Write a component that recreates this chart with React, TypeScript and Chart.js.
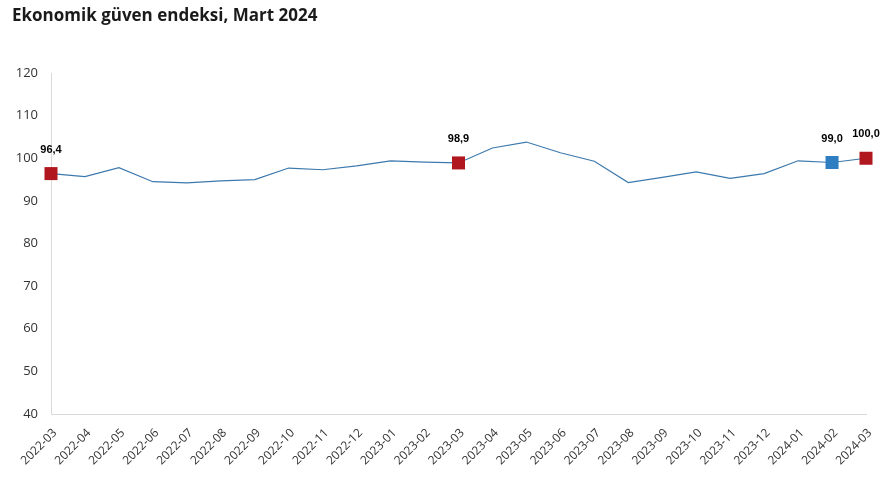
import React, { useEffect, useRef } from "react";
import { Chart, registerables } from "chart.js";

Chart.register(...registerables);

const TITLE = "Ekonomik güven endeksi, Mart 2024";

const categories = [
  "2022-03", "2022-04", "2022-05", "2022-06", "2022-07", "2022-08", "2022-09",
  "2022-10", "2022-11", "2022-12", "2023-01", "2023-02", "2023-03", "2023-04",
  "2023-05", "2023-06", "2023-07", "2023-08", "2023-09", "2023-10", "2023-11",
  "2023-12", "2024-01", "2024-02", "2024-03",
];

const values = [
  96.4, 95.7, 97.8, 94.5, 94.2, 94.7, 95.0,
  97.7, 97.3, 98.2, 99.4, 99.1, 98.9, 102.4,
  103.8, 101.3, 99.3, 94.3, 95.5, 96.8, 95.3,
  96.4, 99.4, 99.0, 100.0,
];

// indices of highlighted points and their marker colours
const markedIndex = [0, 12, 23, 24];
const markedColor = ["#B0171F", "#B0171F", "#2E7EC1", "#B0171F"];

const yTicks = [40, 50, 60, 70, 80, 90, 100, 110, 120];

const LINE_COLOR = "#3C79AD";

const fmt = (v: number) => v.toFixed(1).replace(".", ",");

const labelPlugin = {
  id: "pointLabels",
  afterDatasetsDraw(chart: any) {
    const meta = chart.getDatasetMeta(0);
    const ctx = chart.ctx;
    ctx.save();
    ctx.font = 'bold 11px "Liberation Sans", Arial, sans-serif';
    ctx.fillStyle = "#000000";
    ctx.textAlign = "center";
    ctx.textBaseline = "middle";
    markedIndex.forEach((i) => {
      const el = meta.data[i];
      ctx.fillText(fmt(values[i]), el.x, el.y - 24);
    });
    ctx.restore();
  },
};

export default function App() {
  const ref = useRef<HTMLCanvasElement | null>(null);

  useEffect(() => {
    if (!ref.current) return;
    const radius = values.map((_, i) => (markedIndex.includes(i) ? 9.2 : 0));
    const colors = values.map((_, i) => {
      const k = markedIndex.indexOf(i);
      return k >= 0 ? markedColor[k] : LINE_COLOR;
    });
    const chart = new Chart(ref.current, {
      type: "line",
      data: {
        labels: categories,
        datasets: [
          {
            data: values,
            borderColor: LINE_COLOR,
            borderWidth: 1.2,
            pointStyle: "rect",
            pointRadius: radius,
            pointHoverRadius: radius,
            pointBackgroundColor: colors,
            pointBorderColor: colors,
            pointBorderWidth: 0,
            tension: 0,
            clip: false,
          } as any,
        ],
      },
      options: {
        animation: false,
        responsive: false,
        maintainAspectRatio: false,
        layout: { padding: { top: 73, right: 26, bottom: 0, left: 0 } },
        plugins: {
          legend: { display: false },
          tooltip: { enabled: false },
          title: { display: false },
        },
        scales: {
          x: {
            offset: false,
            grid: { display: false, drawTicks: false },
            border: { display: true, color: "#D9D9D9", width: 1 },
            ticks: {
              autoSkip: false,
              maxRotation: 45,
              minRotation: 45,
              padding: 12,
              labelOffset: 4,
              color: "#333333",
              font: { family: '"Open Sans", sans-serif', size: 12 },
            },
            afterFit: (s: any) => {
              s.height = 73;
            },
          },
          y: {
            min: 40,
            max: 120,
            afterBuildTicks: (s: any) => {
              s.ticks = yTicks.map((v) => ({ value: v }));
            },
            grid: { display: false, drawTicks: false },
            border: { display: true, color: "#D9D9D9", width: 1 },
            ticks: {
              padding: 13,
              color: "#333333",
              font: { family: '"Open Sans", sans-serif', size: 13 },
            },
            afterFit: (s: any) => {
              s.width = 51;
            },
          },
        },
      },
      plugins: [labelPlugin],
    });
    return () => chart.destroy();
  }, []);

  return (
    <div style={{ position: "fixed", left: 0, top: 0, width: 892, height: 487, background: "#fff" }}>
      <div
        style={{
          position: "absolute",
          left: 12,
          top: 3,
          fontFamily: '"Open Sans", sans-serif',
          fontWeight: 700,
          fontSize: 17,
          color: "#1A1A1A",
          whiteSpace: "nowrap",
        }}
      >
        {TITLE}
      </div>
      <canvas ref={ref} width={892} height={487} style={{ display: "block" }} />
    </div>
  );
}
